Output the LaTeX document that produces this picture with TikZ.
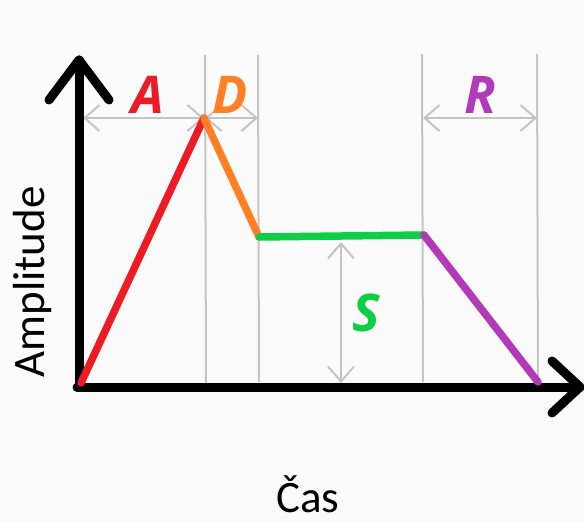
\documentclass[tikz,border=0pt]{standalone}
\usepackage{fontspec}
\setmainfont{Carlito}
\newfontfamily\lblfont{Open Sans}
\usetikzlibrary{arrows.meta}
\definecolor{cA}{RGB}{237,28,36}
\definecolor{cD}{RGB}{255,127,39}
\definecolor{cS}{RGB}{14,206,69}
\definecolor{cR}{RGB}{178,58,184}
\definecolor{grid}{RGB}{196,196,196}
\definecolor{bg}{RGB}{251,251,251}
\tikzset{
  axis/.style={line width=9pt, line cap=round, line join=round, black},
  env/.style={line width=7.5pt, line cap=round},
  guide/.style={line width=2pt, grid},
  dim/.style={line width=2pt, grid, {Straight Barb[length=15pt,width=26pt]}-{Straight Barb[length=15pt,width=26pt]}},
  lbl/.style={font=\lblfont\fontsize{52}{52}\selectfont\bfseries\itshape, inner sep=0pt},
  axlbl/.style={font=\fontsize{45}{45}\selectfont, inner sep=0pt}
}
\begin{document}
\begin{tikzpicture}[x=1pt,y=1pt]
\fill[bg] (0,0) rectangle (584,523);
\useasboundingbox (0,0) rectangle (584,523);
% coordinates
\coordinate (O) at (79,136);
\coordinate (ytip) at (79,463);
\coordinate (yarmL) at (49,423);
\coordinate (yarmR) at (109,423);
\coordinate (xtip) at (580,136);
\coordinate (xarmU) at (552,162);
\coordinate (xarmD) at (552,110);
\coordinate (s0) at (81,140);
\coordinate (pk) at (204,405);
\coordinate (dE) at (259,286);
\coordinate (sE) at (424,288);
\coordinate (rE) at (538,141);
% guide lines
\coordinate (g1t) at (205,468); \coordinate (g1b) at (206,140);
\coordinate (g2t) at (258,468); \coordinate (g2b) at (259,141);
\coordinate (g3t) at (422,469); \coordinate (g3b) at (423,141);
\coordinate (g4t) at (537,469); \coordinate (g4b) at (538,141);
\draw[guide] (g1t) -- (g1b);
\draw[guide] (g2t) -- (g2b);
\draw[guide] (g3t) -- (g3b);
\draw[guide] (g4t) -- (g4b);
% dimension arrows
\coordinate (dA1) at (83,405); \coordinate (dA2) at (204,405);
\coordinate (dD1) at (205,405); \coordinate (dD2) at (258,405);
\coordinate (dR1) at (423,405); \coordinate (dR2) at (537,405);
\coordinate (dS1) at (341,281); \coordinate (dS2) at (341,140);
\draw[dim] (dA1) -- (dA2);
\draw[dim] (dD1) -- (dD2);
\draw[dim] (dR1) -- (dR2);
\draw[dim] (dS1) -- (dS2);
% axes
\draw[axis] (O) -- (ytip);
\draw[axis] (yarmL) -- (ytip) -- (yarmR);
\draw[axis] (77,136) -- (xtip);
\draw[axis] (xarmU) -- (xtip) -- (xarmD);
% envelope
\draw[env, cA] (s0) -- (pk);
\draw[env, cD] (pk) -- (dE);
\draw[env, cS] (dE) -- (sE);
\draw[env, cR] (sE) -- (rE);
% labels
\node[lbl, text=cA] (lA) at (148,428) {A};
\node[lbl, text=cD] (lD) at (230,428) {D};
\node[lbl, text=cR] (lR) at (480,428) {R};
\node[lbl, text=cS] (lS) at (366,210) {S};
\node[axlbl, rotate=90] (amp) at (33,241) {Amplitude};
\node[axlbl, anchor=base] (cas) at (308,11) {Čas};
\end{tikzpicture}
\end{document}
